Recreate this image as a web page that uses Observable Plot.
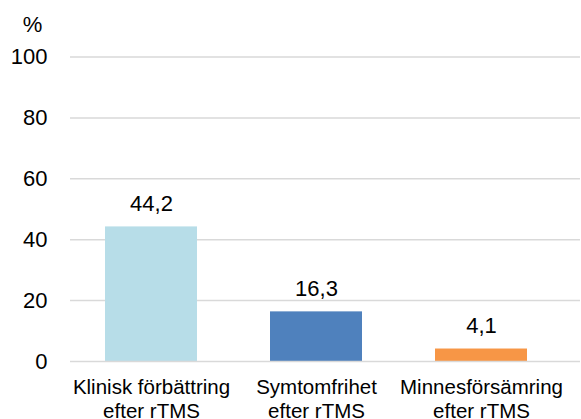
<!DOCTYPE html>
<html>
<head>
<meta charset="utf-8">
<script src="https://cdn.jsdelivr.net/npm/d3@7"></script>
<script src="https://cdn.jsdelivr.net/npm/@observablehq/plot@0.6"></script>
<style>
  html, body { margin: 0; padding: 0; background: #fff; }
  svg { display: block; overflow: visible; }
</style>
</head>
<body>
<div id="chart"></div>
<script>
const categories = ["Klinisk förbättring\nefter rTMS", "Symtomfrihet\nefter rTMS", "Minnesförsämring\nefter rTMS"];
const values = [44.2, 16.3, 4.1];
const valueLabels = ["44,2", "16,3", "4,1"];
const colors = ["#b7dde8", "#4f81bd", "#f79646"];
const yTicks = [0, 20, 40, 60, 80, 100];
const unitLabel = "%";

const data = categories.map((c, i) => ({category: c, value: values[i], label: valueLabels[i], color: colors[i]}));
const font = "'Liberation Sans', Arial, Helvetica, sans-serif";

const chart = Plot.plot({
  width: 581,
  height: 419,
  marginTop: 56.5,
  marginBottom: 58,
  marginLeft: 70,
  marginRight: 1,
  style: {fontFamily: font, background: "#fff", color: "#000"},
  x: {domain: categories, range: [68.5, 563.5], paddingInner: 0.44, paddingOuter: 0.22, axis: null},
  y: {domain: [0, 100], axis: null},
  marks: [
    Plot.ruleY(yTicks.filter(d => d !== 0), {stroke: "#d9d9d9", strokeWidth: 1.5}),
    Plot.barY(data, {x: "category", y: "value", fill: "color"}),
    Plot.ruleY([0], {stroke: "#d9d9d9", strokeWidth: 1.5}),
    Plot.axisY(yTicks, {tickSize: 0, tickPadding: 23, fontSize: 22, label: null, tickFormat: d => String(d)}),
    Plot.text(data, {x: "category", y: "value", text: "label", fontSize: 22, lineAnchor: "middle", dy: -23, fill: "#000"}),
    Plot.text(data, {x: "category", y: () => 0, text: "category", fontSize: 20.5, lineAnchor: "top", lineHeight: 1.17, dy: 15.5, fill: "#000"}),
    Plot.text([unitLabel], {frameAnchor: "top-left", text: d => d, fontSize: 22, textAnchor: "middle", lineAnchor: "middle", dx: -38, dy: -32.5, fill: "#000"})
  ]
});
document.getElementById("chart").appendChild(chart);
</script>
</body>
</html>
